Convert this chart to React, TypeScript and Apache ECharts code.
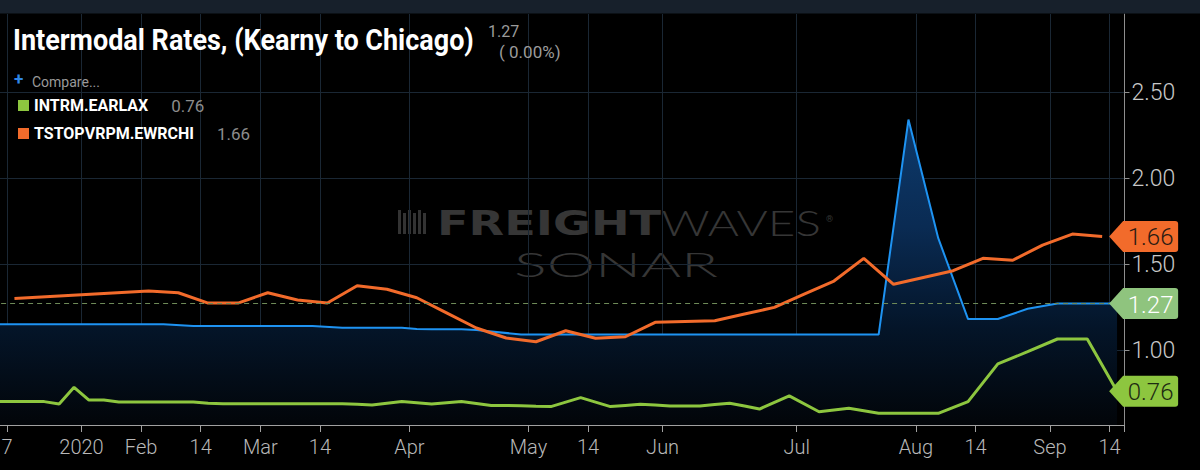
import React, { useEffect, useRef } from "react";
import * as echarts from "echarts";

// x slots (roughly half-week steps); tick labels sit at slot boundaries
const tickSlots = [1, 6, 10, 14, 18, 22, 28, 36, 40, 45, 54, 62, 66, 71, 75];
const tickLabels = ["7", "2020", "Feb", "14", "Mar", "14", "Apr", "May", "14", "Jun", "Jul", "Aug", "14", "Sep", "14"];

const mainName = "Intermodal Rates, (Kearny to Chicago)";
const greenName = "INTRM.EARLAX";
const orangeName = "TSTOPVRPM.EWRCHI";

// Intermodal Rates, Kearny to Chicago (blue)
const intermodalEwrChi = [
  1.15, 1.15, 1.15, 1.15, 1.15, 1.15, 1.15, 1.15, 1.15, 1.15, 1.15, 1.15,
  null,
  1.14, 1.14, 1.14, 1.14, 1.14, 1.14, 1.14, 1.14, 1.14,
  null,
  1.13, 1.13, 1.13, 1.13, 1.13,
  1.122,
  1.12, 1.12, 1.12, 1.117,
  null, null,
  1.09, 1.09, 1.09, 1.09, 1.09, 1.09, 1.09, 1.09, 1.09, 1.09, 1.09, 1.09, 1.09,
  1.09, 1.09, 1.09, 1.09, 1.09, 1.09, 1.09, 1.09, 1.09, 1.09, 1.09, 1.09,
  null, 2.34, null, 1.65, null, 1.18, 1.18, 1.18, null, 1.24, null,
  1.27, 1.27, 1.27, 1.27, 1.27,
];

// INTRM.EARLAX (green)
const intrmEarLax = [
  0.70, 0.70, 0.70, 0.70, 0.686, 0.783, 0.709, 0.709, 0.698, 0.698,
  0.698, 0.698, 0.698, 0.698, 0.69, 0.688, 0.688, 0.688, 0.688, 0.688,
  0.688, 0.688, 0.688, 0.688, 0.684, 0.68, null, 0.70, null, 0.686,
  null, 0.70, null, 0.678, 0.677, 0.676, 0.673, 0.671, null, 0.723,
  null, 0.671, 0.678, 0.684, 0.68, 0.674, 0.674, 0.674, 0.683, 0.69,
  0.674, 0.657, null, 0.733, null, 0.641, null, 0.661, null, 0.632,
  0.632, 0.632, 0.632, 0.632, null, 0.70, null, 0.919, null, 0.99,
  null, 1.064, 1.064, 1.064, null, 0.76,
];

// TSTOPVRPM.EWRCHI (orange)
const tstopEwrChi = [
  null, 1.30, null, null, null, null, null, null, null, null,
  1.343, null, 1.333, null, 1.273, null, 1.273, null, 1.333, null,
  1.291, null, 1.273, null, 1.374, null, 1.353, null, 1.304, null,
  1.216, null, 1.128, null, 1.07, null, 1.048, null, 1.112, null,
  1.068, null, 1.077, null, 1.161, null, 1.166, null, 1.17, null,
  1.209, null, 1.248, null, 1.325, null, 1.401, null, 1.533, null,
  1.382, null, 1.422, null, 1.461, null, 1.533, null, 1.522, null,
  1.61, null, 1.674, null, 1.66, null,
];

const slotIds = intermodalEwrChi.map((_, i) => "s" + i);

const lastValues = (a: (number | null)[]) => a.filter((v) => v != null) as number[];

const TAG_SLOT = 74;
const TAG_PATH = "path://M0,15.5L14,0L66,0Q69,0,69,3L69,28Q69,31,66,31L14,31Z";
const OX = 8; // the chart canvas starts 8px left of the page edge

function tagMarker(value: number, color: string, textColor: string) {
  return {
    silent: true,
    symbol: TAG_PATH,
    symbolSize: [69, 31],
    symbolKeepAspect: false,
    symbolOffset: [41.5, 0],
    itemStyle: { color },
    label: {
      show: true,
      position: "inside",
      offset: [7, 1],
      formatter: value.toFixed(2),
      color: textColor,
      fontSize: 24,
      fontFamily: "Roboto",
      fontWeight: 300,
    },
    data: [{ coord: [TAG_SLOT, value], value }],
  };
}

export default function App() {
  const ref = useRef<HTMLDivElement>(null);

  useEffect(() => {
    document.body.style.margin = "0";
    document.body.style.background = "#000";
    document.body.style.overflow = "hidden";
    if (!ref.current) return;
    const chart = echarts.init(ref.current, undefined, { renderer: "svg" });

    const blueVals = lastValues(intermodalEwrChi);
    const blueLast = blueVals[blueVals.length - 1];
    const bluePrev = blueVals[blueVals.length - 2];
    const pct = ((blueLast - bluePrev) / bluePrev) * 100;
    const greenVals = lastValues(intrmEarLax);
    const greenLast = greenVals[greenVals.length - 1];
    const orangeVals = lastValues(tstopEwrChi);
    const orangeLast = orangeVals[orangeVals.length - 1];
    const legendValues: Record<string, number> = {
      [greenName]: greenLast,
      [orangeName]: orangeLast,
    };

    const gridColor = "#1a2734";

    chart.setOption({
      animation: false,
      backgroundColor: "#000",
      grid: { left: 0.1, right: 75.5, top: 14, bottom: 45, containLabel: false },
      legend: {
        data: [greenName, orangeName],
        orient: "vertical",
        left: 13 + OX,
        top: 92,
        itemWidth: 11,
        itemHeight: 11,
        itemGap: 11,
        icon: "rect",
        selectedMode: false,
        formatter: (name: string) => `{n|${name}}{v|${legendValues[name].toFixed(2)}}`,
        textStyle: {
          rich: {
            n: { color: "#ffffff", fontFamily: "Roboto", fontWeight: "bold", fontSize: 16, lineHeight: 20 },
            v: { color: "#8c8c8c", fontFamily: "Roboto", fontSize: 17, lineHeight: 20, padding: [0, 0, 0, 23] },
          },
        },
      },
      xAxis: {
        type: "category",
        data: slotIds,
        boundaryGap: true,
        axisLine: { show: true, lineStyle: { color: "#a0a0a0", width: 1 } },
        axisTick: {
          show: true,
          length: 7,
          interval: (i: number) => tickSlots.includes(i),
          lineStyle: { color: "#a0a0a0" },
        },
        axisLabel: {
          show: true,
          interval: (i: number) => tickSlots.includes(i),
          formatter: (_v: string, i: number) => {
            const t = tickSlots.indexOf(i);
            return t >= 0 ? tickLabels[t] : "";
          },
          padding: [0, 14.9, 0, 0],
          margin: 12,
          color: "#b8b8b8",
          fontSize: 20,
          fontFamily: "Roboto",
          fontWeight: 300,
        },
        splitLine: {
          show: true,
          interval: (i: number) => tickSlots.includes(i),
          lineStyle: { color: gridColor, width: 1 },
        },
      },
      yAxis: {
        type: "value",
        position: "right",
        min: 0.564,
        max: 2.9535,
        axisLine: { show: true, lineStyle: { color: "#8e8e8e", width: 1 } },
        axisTick: { show: true, length: 5, customValues: [1, 1.5, 2, 2.5], lineStyle: { color: "#8e8e8e" } },
        axisLabel: {
          customValues: [1, 1.5, 2, 2.5],
          formatter: (v: number) => v.toFixed(2),
          margin: 7,
          color: "#c8c8c8",
          fontSize: 23,
          fontFamily: "Roboto",
          fontWeight: 300,
        },
        splitLine: { show: true, lineStyle: { color: gridColor, width: 1 } },
      },
      graphic: [
        // watermark
        {
          type: "group",
          x: 398 + OX,
          y: 210,
          z: 0,
          silent: true,
          children: [0, 5, 10, 15, 20, 25].map((dx, i) => ({
            type: "rect",
            shape: { x: dx, y: i % 2 ? 3 : 0, width: 3, height: i % 2 ? 21 : 24 },
            style: { fill: "#333333" },
          })),
        },
        {
          type: "text",
          x: 437 + OX,
          y: 223,
          scaleX: 1.36,
          z: 0,
          silent: true,
          style: {
            text: "{b|FREIGHT}{t|WAVES}",
            verticalAlign: "middle",
            rich: {
              b: { fontFamily: "DejaVu Sans", fontWeight: "bold", fontSize: 34, fill: "#363636", color: "#363636" },
              t: { fontFamily: "Lato", fontWeight: 300, fontSize: 35, fill: "#363636", color: "#363636" },
            },
          },
        },
        {
          type: "text",
          x: 826 + OX,
          y: 214,
          silent: true,
          style: { text: "®", fontSize: 9, fontFamily: "Roboto", fill: "#363636" },
        },
        {
          type: "text",
          x: 514 + OX,
          y: 264,
          scaleX: 1.85,
          silent: true,
          style: {
            text: "SONAR",
            verticalAlign: "middle",
            fontFamily: "Lato",
            fontWeight: 300,
            fontSize: 33,
            fill: "#363636",
          },
        },
        // zoom control
        {
          type: "group",
          x: 556 + OX,
          y: 366,
          z: 20,
          silent: true,
          children: [
            { type: "rect", shape: { x: 0, y: 0, width: 76, height: 27, r: 4 }, style: { fill: "#223140" } },
            { type: "rect", shape: { x: 12, y: 12, width: 14, height: 3 }, style: { fill: "#c3cad1" } },
            { type: "line", shape: { x1: 40, y1: 6, x2: 40, y2: 22 }, style: { stroke: "#4b5966", lineWidth: 1 } },
            { type: "rect", shape: { x: 50, y: 12, width: 14, height: 3 }, style: { fill: "#c3cad1" } },
            { type: "rect", shape: { x: 55.5, y: 6.5, width: 3, height: 14 }, style: { fill: "#c3cad1" } },
          ],
        },
        // top band
        {
          type: "rect",
          z: 100,
          silent: true,
          shape: { x: 0, y: 0, width: 1208, height: 13.5 },
          style: { fill: "#17202b" },
        },
        // title
        {
          type: "text",
          x: 13 + OX,
          y: 40,
          scaleX: 0.93,
          z: 50,
          style: {
            text: mainName,
            verticalAlign: "middle",
            fontFamily: "Roboto",
            fontWeight: "bold",
            fontSize: 29,
            fill: "#ffffff",
          },
        },
        {
          type: "text",
          x: 488 + OX,
          y: 31,
          z: 50,
          style: {
            text: blueLast.toFixed(2),
            verticalAlign: "middle",
            fontFamily: "Roboto",
            fontSize: 16,
            fill: "#9b9b9b",
          },
        },
        {
          type: "text",
          x: 499 + OX,
          y: 51.5,
          z: 50,
          style: {
            text: `( ${pct.toFixed(2)}%)`,
            verticalAlign: "middle",
            fontFamily: "Roboto",
            fontSize: 17,
            fill: "#9b9b9b",
          },
        },
        // compare
        {
          type: "text",
          x: 14 + OX,
          y: 79,
          z: 50,
          style: { text: "+", verticalAlign: "middle", fontFamily: "Roboto", fontWeight: "bold", fontSize: 17, fill: "#2f86e6" },
        },
        {
          type: "text",
          x: 32 + OX,
          y: 82,
          z: 50,
          style: { text: "Compare...", verticalAlign: "middle", fontFamily: "Roboto", fontSize: 14, fill: "#9a9a9a" },
        },
      ],
      series: [
        {
          name: mainName,
          type: "line",
          data: intermodalEwrChi,
          connectNulls: true,
          showSymbol: false,
          symbol: "none",
          z: 2,
          lineStyle: { color: "#1e93f2", width: 2 },
          itemStyle: { color: "#1e93f2" },
          areaStyle: {
            color: new echarts.graphic.LinearGradient(0, 0, 0, 1, [
              { offset: 0, color: "#0d3a6c" },
              { offset: 0.35, color: "#0a2b53" },
              { offset: 0.68, color: "#041529" },
              { offset: 1, color: "#020509" },
            ]),
            opacity: 1,
          },
          markLine: {
            silent: true,
            symbol: "none",
            label: { show: false },
            lineStyle: { color: "#6e8a58", type: [5, 4], width: 1 },
            data: [{ yAxis: blueLast }],
          },
          markPoint: tagMarker(blueLast, "#8fc47e", "#ffffff"),
        },
        {
          name: orangeName,
          type: "line",
          data: tstopEwrChi,
          connectNulls: true,
          showSymbol: false,
          symbol: "none",
          z: 3,
          lineStyle: { color: "#f26b2b", width: 3 },
          itemStyle: { color: "#f26b2b" },
          markPoint: tagMarker(orangeLast, "#f26b2b", "#2a1a12"),
        },
        {
          name: greenName,
          type: "line",
          data: intrmEarLax,
          connectNulls: true,
          showSymbol: false,
          symbol: "none",
          z: 4,
          lineStyle: { color: "#8dc63f", width: 3 },
          itemStyle: { color: "#8dc63f" },
          markPoint: tagMarker(greenLast, "#8dc63f", "#1d2a12"),
        },
      ],
    });

    return () => chart.dispose();
  }, []);

  return <div ref={ref} style={{ width: 1208, height: 470, marginLeft: -OX, background: "#000" }} />;
}
